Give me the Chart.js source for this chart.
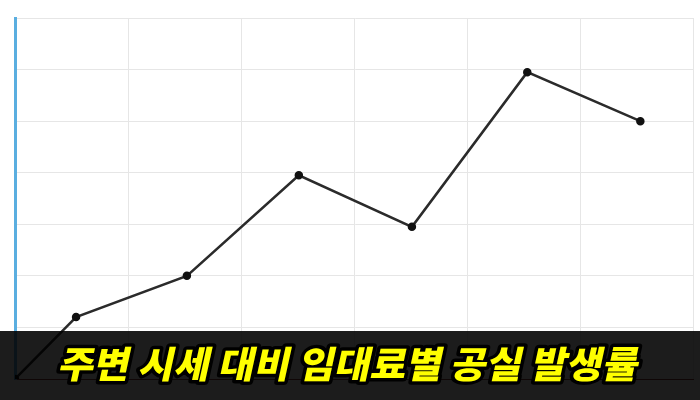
<!DOCTYPE html>
<html>
<head>
<meta charset="utf-8">
<script src="https://cdn.jsdelivr.net/npm/chart.js@4"></script>
<style>
  html, body { margin: 0; padding: 0; background: #fff; }
  #wrap { width: 700px; height: 400px; }
</style>
</head>
<body>
<div id="wrap"><canvas id="rentChart" width="700" height="400"></canvas></div>
<script>
// 임대료 구간 위치 (x축) 와 공실 발생률 (y축)
const positions = [0, 0.54, 1.52, 2.51, 3.51, 4.53, 5.53];
const vacancyRates = [0, 12, 20, 39.5, 29.5, 59.5, 50];
const titleText = '주변 시세 대비 임대료별 공실 발생률';

// 하단 검은 배너 + 노란 제목
const bannerPlugin = {
  id: 'banner',
  afterDraw(chart) {
    const c = chart.ctx;
    const w = chart.width;
    c.save();
    c.fillStyle = 'rgba(0,0,0,0.89)';
    c.fillRect(0, 331, w, 400 - 331);

    c.font = '900 37px "Noto Sans CJK KR"';
    c.textAlign = 'center';
    c.textBaseline = 'middle';
    const tw = c.measureText(titleText).width;
    const sx = 580 / tw;
    c.translate(350, 364);
    c.transform(sx, 0, -0.22, 1, 0, 0);
    c.lineJoin = 'round';
    c.lineWidth = 7;
    c.strokeStyle = '#000';
    c.strokeText(titleText, 0, 0);
    c.fillStyle = '#ffff00';
    c.fillText(titleText, 0, 0);
    c.restore();
  }
};

const ctx = document.getElementById('rentChart').getContext('2d');
new Chart(ctx, {
  type: 'line',
  data: {
    datasets: [{
      data: positions.map((x, i) => ({ x: x, y: vacancyRates[i] })),
      borderColor: '#2b2b2b',
      borderWidth: 2.5,
      pointRadius: 3,
      pointBackgroundColor: '#111',
      pointBorderColor: '#111',
      tension: 0
    }]
  },
  options: {
    responsive: false,
    animation: false,
    layout: { padding: { left: 15, right: 6, top: 18, bottom: 21 } },
    plugins: { legend: { display: false }, tooltip: { enabled: false } },
    scales: {
      x: {
        type: 'linear',
        min: 0, max: 6,
        ticks: { display: false, stepSize: 1 },
        grid: { color: '#e6e6e6', drawTicks: false },
        border: { color: '#8a3a3a', width: 1 }
      },
      y: {
        min: 0, max: 70,
        ticks: { display: false, stepSize: 10 },
        grid: { color: '#e6e6e6', drawTicks: false },
        border: { color: '#5aaee0', width: 3 }
      }
    }
  },
  plugins: [bannerPlugin]
});
</script>
</body>
</html>
